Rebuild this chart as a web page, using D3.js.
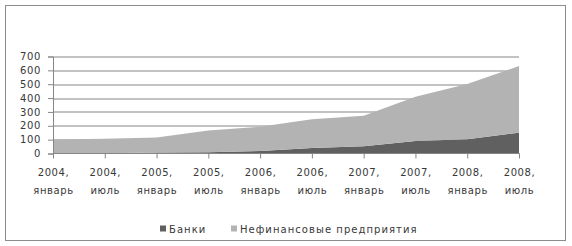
<!DOCTYPE html>
<html>
<head>
<meta charset="utf-8">
<script src="https://cdn.jsdelivr.net/npm/d3@7"></script>
<style>
  body { margin: 0; background: #fff; }
  text { font-family: "DejaVu Sans", Verdana, sans-serif; font-size: 10px; fill: #383838; letter-spacing: 0.6px; }
  .legend text { letter-spacing: 1.05px; }
</style>
</head>
<body>
<script>
// data
const periods = ["2004, январь", "2004, июль", "2005, январь", "2005, июль", "2006, январь",
    "2006, июль", "2007, январь", "2007, июль", "2008, январь", "2008, июль"];
const banks = [1, 2, 8, 9, 18, 40, 52, 90, 102, 150];
const nonFinancial = [100, 104, 108, 157, 175, 207, 221, 320, 399, 481];
const seriesNames = ["Банки", "Нефинансовые предприятия"];
const yTicks = [0, 100, 200, 300, 400, 500, 600, 700];

const width = 572, height = 246;
const margin = { top: 56.5, right: 53, bottom: 92.5, left: 53 },
    graphWidth = width - margin.left - margin.right,
    graphHeight = height - margin.top - margin.bottom;

const svg = d3.select("body").append("svg")
    .attr("width", width)
    .attr("height", height);

// outer frame
svg.append("rect")
    .attr("x", 5.5).attr("y", 5.5)
    .attr("width", 560).attr("height", 235)
    .attr("fill", "none")
    .attr("stroke", "#8c8c8c");

const graph = svg.append("g")
    .attr("transform", `translate(${margin.left}, ${margin.top})`);

const x = d3.scalePoint().domain(periods).range([0, graphWidth]);
const y = d3.scaleLinear().domain([0, 700]).range([graphHeight, 0]);

const table = periods.map((p, i) => ({ period: p, banks: banks[i], nonFinancial: nonFinancial[i] }));
const stacked = d3.stack().keys(["banks", "nonFinancial"])(table);
const colors = ["#606060", "#b3b3b3"];

// gridlines
graph.append("g")
    .selectAll("line")
    .data(yTicks.filter(d => d > 0))
    .join("line")
    .attr("x1", 0).attr("x2", graphWidth)
    .attr("y1", d => Math.round(y(d)) + 0.5).attr("y2", d => Math.round(y(d)) + 0.5)
    .attr("stroke", "#868686");

const area = d3.area()
    .x(d => x(d.data.period))
    .y0(d => y(d[0]))
    .y1(d => y(d[1]));

graph.selectAll("path.area")
    .data(stacked)
    .join("path")
    .attr("class", "area")
    .attr("fill", (d, i) => colors[i])
    .attr("d", area);

// y axis
const yAxis = d3.axisLeft(y).tickValues(yTicks).tickSize(5).tickPadding(7);
const yAxisGroup = graph.append("g").call(yAxis);
yAxisGroup.select(".domain").attr("stroke", "#868686");
yAxisGroup.selectAll(".tick line").attr("stroke", "#868686");

// x axis
const xAxis = d3.axisBottom(x).tickSize(5).tickFormat("");
const xAxisGroup = graph.append("g")
    .attr("transform", `translate(0, ${graphHeight})`)
    .call(xAxis);
xAxisGroup.select(".domain").attr("stroke", "#868686").attr("d", `M0.5,0H${graphWidth + 0.5}`);
xAxisGroup.selectAll(".tick line").attr("stroke", "#868686");

xAxisGroup.selectAll(".tick").each(function(d) {
    const parts = d.split(", ");
    const t = d3.select(this).append("text")
        .attr("text-anchor", "middle");
    t.append("tspan").attr("x", 0).attr("y", 22).text(parts[0] + ",");
    t.append("tspan").attr("x", 0).attr("y", 40).text(parts[1]);
});
graph.selectAll(".tick text").attr("fill", "#383838").style("font-size", "10px");

// legend
const legendItems = [{ name: seriesNames[0], x: 160 }, { name: seriesNames[1], x: 231 }];
const legend = svg.append("g").attr("class", "legend").attr("transform", "translate(0, 229)");
legendItems.forEach((d, i) => {
    legend.append("rect")
        .attr("x", d.x).attr("y", -3.5)
        .attr("width", 6).attr("height", 6)
        .attr("fill", colors[i]);
    legend.append("text")
        .attr("x", d.x + 9).attr("y", 0)
        .attr("dy", "0.35em")
        .text(d.name);
});
</script>
</body>
</html>
